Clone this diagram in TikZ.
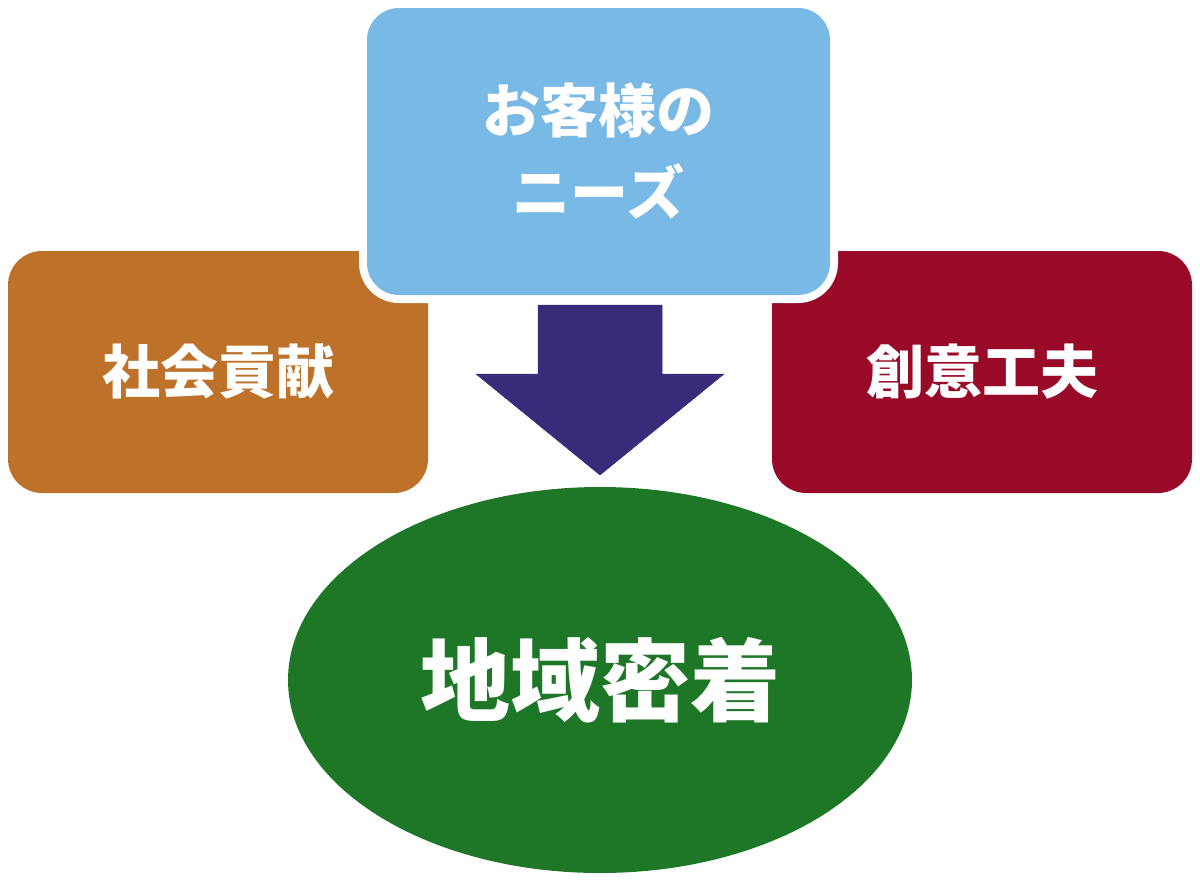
\documentclass[tikz,border=0pt]{standalone}
\usepackage{fontspec}
\newfontfamily\jp{Noto Sans CJK JP}
\usetikzlibrary{shapes.geometric}
\definecolor{boxorange}{HTML}{BE7128}
\definecolor{boxblue}{HTML}{79B9E5}
\definecolor{boxred}{HTML}{990A28}
\definecolor{arrowpurple}{HTML}{3A2A7A}
\definecolor{ovalgreen}{HTML}{1D7727}
\tikzset{
  box/.style={rectangle, rounded corners=34pt, inner sep=0pt, text=white,
    font=\jp\bfseries\fontsize{58}{82}\selectfont, align=center},
  sidebox/.style={box, minimum width=420pt, minimum height=242pt},
  topbox/.style={box, fill=boxblue, minimum width=463pt, minimum height=287pt,
    rounded corners=32pt, preaction={draw=white, line width=16pt}},
  oval/.style={ellipse, fill=ovalgreen, inner sep=0pt, minimum width=624pt,
    minimum height=386pt, text=white, font=\jp\bfseries\fontsize{90}{100}\selectfont},
  bigarrow/.style={fill=arrowpurple, draw=arrowpurple, line width=0.5pt}
}
\begin{document}
\begin{tikzpicture}[x=1pt, y=-1pt]
\useasboundingbox (0,0) rectangle (1200,886);
\node[sidebox, fill=boxorange] (social) at (218,372) {社会貢献};
\node[sidebox, fill=boxred] (ingenuity) at (982,372) {創意工夫};
\node[topbox] (needs) at (598.5,151.5) {お客様の\\ニーズ};
\node[oval] (local) at (600,680) {地域密着};
\coordinate (shaftTL) at (538,305);
\coordinate (tip) at (600,475);
\fill[bigarrow] (shaftTL) -- (662,305) -- (662,374) -- (724,374) -- (tip) -- (476,374) -- (538,374) -- cycle;
\end{tikzpicture}
\end{document}
